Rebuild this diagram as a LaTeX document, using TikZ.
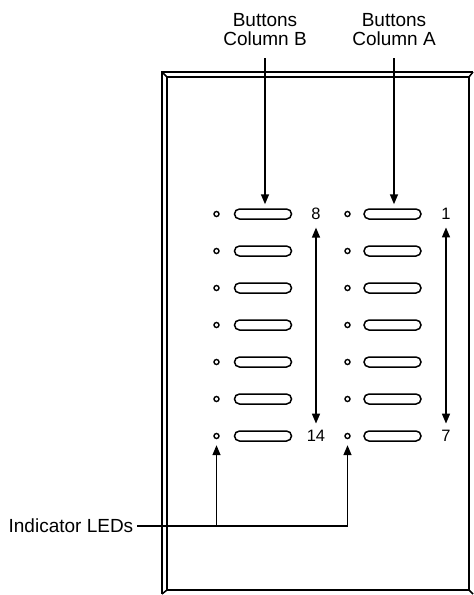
\documentclass[tikz,border=0pt]{standalone}
\usepackage{fontspec}
\setmainfont{Liberation Sans}
\usetikzlibrary{arrows.meta}
\begin{document}
\begin{tikzpicture}[x=1pt,y=-1pt, line width=1.5pt,
  lbl/.style={font=\fontsize{19}{19}\selectfont, align=center, inner sep=0pt},
  num/.style={font=\fontsize{16.5}{16.5}\selectfont, inner sep=0pt},
  pill/.style={draw, rounded corners=5pt, minimum width=57pt, minimum height=10pt, inner sep=0pt},
  led/.style={draw, circle, minimum size=5pt, inner sep=0pt, line width=1.4pt},
  arr/.style={-{Triangle[length=10pt,width=8pt]}},
  darr/.style={{Triangle[length=10pt,width=8pt]}-{Triangle[length=10pt,width=8pt]}},
]
\useasboundingbox (0,0) rectangle (474,595);
% frame
\draw (167,77) rectangle (469,590);
\draw (162,594) -- (162,72) -- (473,72);
\draw (162,72) -- (167,77);
\draw (473,72) -- (469,77);
\draw (162,594) -- (167,590);
\draw (473,594) -- (469,590);
% rows
\foreach \i in {1,...,7}{
  \pgfmathsetmacro{\yy}{214+37*(\i-1)}
  \node[led]  (ledB\i)  at (216.5,\yy) {};
  \node[pill] (pillB\i) at (263,\yy) {};
  \node[led]  (ledA\i)  at (347.5,\yy) {};
  \node[pill] (pillA\i) at (392.5,\yy) {};
}
\node[num] (n8)  at (316,214) {8};
\node[num] (n14) at (316,436) {14};
\node[num] (n1)  at (446,214) {1};
\node[num] (n7)  at (446,436) {7};
\draw[darr] ([yshift=-7pt]n8.south) -- ([yshift=6pt]n14.north);
\draw[darr] ([yshift=-7pt]n1.south) -- ([yshift=6pt]n7.north);
% column labels
\node[lbl] (colB) at (265,29.5) {Buttons\\Column B};
\node[lbl] (colA) at (394,29.5) {Buttons\\Column A};
\draw[arr] ([yshift=-12pt]colB.south) -- ([yshift=4pt]colB.south |- pillB1.north);
\draw[arr] ([yshift=-12pt]colA.south) -- ([yshift=4pt]colA.south |- pillA1.north);
% indicator LEDs
\node[lbl, anchor=east] (ind) at (134,526) {Indicator LEDs};
\draw[arr] ([xshift=3pt]ind.east) -- (ind.east -| ledA7) -- ([yshift=-6pt]ledA7.south);
\draw[arr] (ind.east -| ledB7) -- ([yshift=-6pt]ledB7.south);
\end{tikzpicture}
\end{document}
